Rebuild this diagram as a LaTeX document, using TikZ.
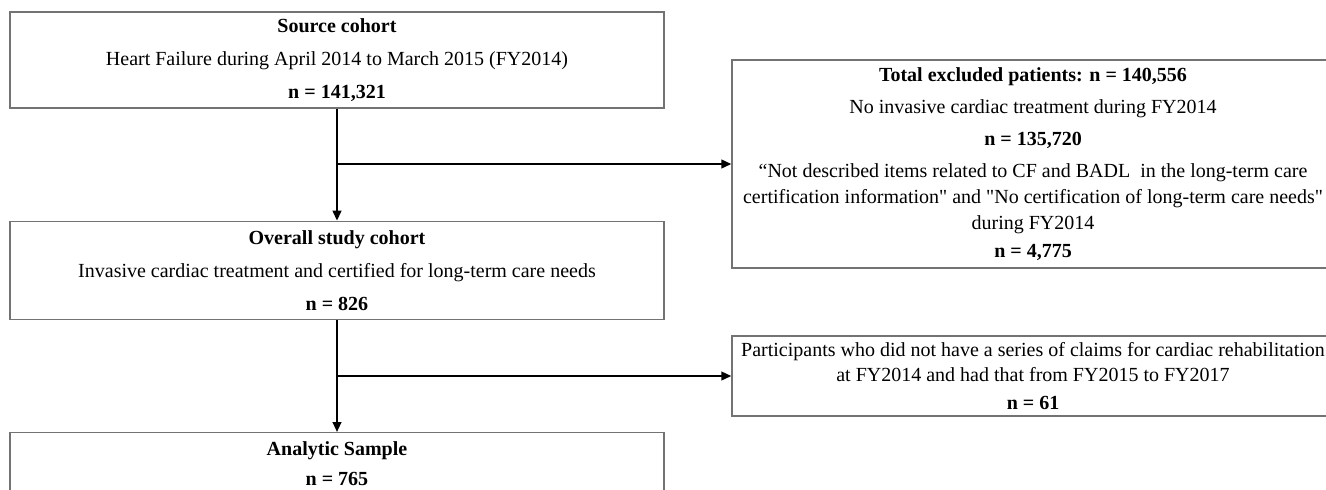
\documentclass[tikz,border=0pt]{standalone}
\usepackage{fontspec}
\setmainfont{Liberation Serif}[Ligatures=TeXOff]
\usetikzlibrary{arrows.meta,positioning}

\begin{document}
\begin{tikzpicture}[
  x=0.75pt,y=-0.75pt,
  node distance=84pt,
  box/.style={draw=black!55,line width=1pt,inner sep=0pt,align=center,
    minimum width=490.5pt,font=\fontsize{15}{18.75}\selectfont},
  xbox/.style={box,minimum width=451.5pt},
  arr/.style={line width=1.5pt,-{Triangle[length=7.5pt,width=6.5pt]}}
]
\useasboundingbox (0,0) rectangle (1326,489);
\clip (0,0) rectangle (1326,489);

% left column
\node[box,minimum height=72pt] (src) at (337,60)
  {\textbf{Source cohort}\\[6pt]
   Heart Failure during April 2014 to March 2015 (FY2014)\\[6pt]
   \textbf{n = 141,321}};
\node[box,minimum height=73.5pt,below=of src] (ovr)
  {\textbf{Overall study cohort}\\[6pt]
   Invasive cardiac treatment and certified for long-term care needs\\[6pt]
   \textbf{n = 826}};
\node[box,minimum height=46pt,below=of ovr] (ana)
  {\textbf{Analytic Sample}\\[4pt]
   \textbf{n = 765}};

% excluded
\node[xbox,minimum height=156pt] (exc1) at (1033,164)
  {\textbf{Total excluded patients: n = 140,556}\\[5.25pt]
   No invasive cardiac treatment during FY2014\\[5.25pt]
   \textbf{n = 135,720}\\[5.25pt]
   “Not described items related to CF and BADL\ \ in the long-term care\\[0.5pt]
   certification information" and "No certification of long-term care needs"\\[0.5pt]
   during FY2014\\[2.25pt]
   \textbf{n = 4,775}};
\node[xbox,minimum height=60pt] (exc2) at (1033,376)
  {Participants who did not have a series of claims for cardiac rehabilitation\\
   at FY2014 and had that from FY2015 to FY2017\\[2pt]
   \textbf{n = 61}};

\draw[arr] (src) -- (ovr);
\draw[arr] (ovr) -- (ana);
\draw[arr] (src.south |- exc1.west) -- (exc1.west);
\draw[arr] (ovr.south |- exc2.west) -- (exc2.west);
\end{tikzpicture}
\end{document}
